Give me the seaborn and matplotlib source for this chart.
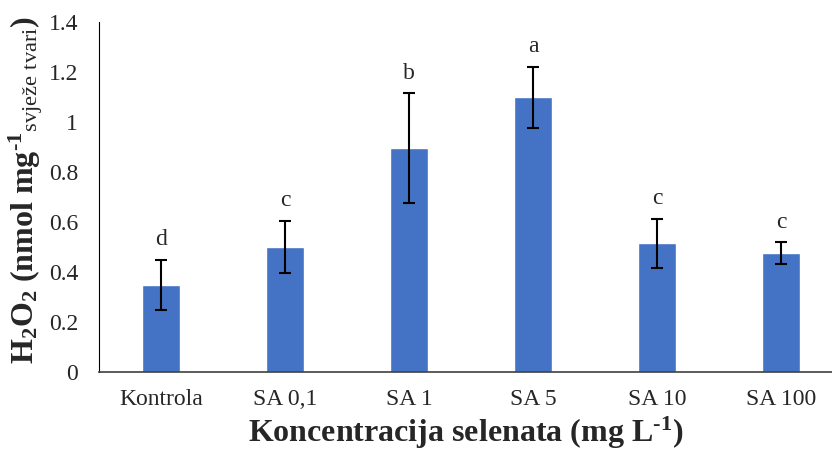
import matplotlib
matplotlib.use("Agg")
import matplotlib.pyplot as plt
import seaborn as sns
import pandas as pd

# podaci procitani sa grafika
tretmani = ['Kontrola', 'SA 0,1', 'SA 1', 'SA 5', 'SA 10', 'SA 100']
h2o2 = [0.35, 0.50, 0.895, 1.10, 0.515, 0.475]
greska = [0.10, 0.105, 0.22, 0.122, 0.097, 0.044]
slova = ['d', 'c', 'b', 'a', 'c', 'c']

df = pd.DataFrame({'tretman': tretmani, 'h2o2': h2o2})

sns.set_style('white')
plt.rcParams['font.family'] = ['Liberation Serif', 'DejaVu Serif']
plt.rcParams['mathtext.fontset'] = 'custom'
plt.rcParams['mathtext.rm'] = 'Liberation Serif'
plt.rcParams['mathtext.it'] = 'Liberation Serif:bold'
plt.rcParams['mathtext.bf'] = 'Liberation Serif:bold'

boja = '#4472C4'

fig = plt.figure(figsize=(8.32, 4.54), dpi=100)
ax = fig.add_axes([0.119, 0.1806, 0.881, 0.7709])

sns.barplot(data=df, x='tretman', y='h2o2', color=boja, saturation=1,
            width=0.306, errorbar=None, ax=ax)
ax.errorbar(range(len(tretmani)), h2o2, yerr=greska, fmt='none',
            ecolor='black', elinewidth=1.5, capsize=4.2, capthick=1.5)

for i, s in enumerate(slova):
    ax.annotate(s, (i, h2o2[i] + greska[i]), xytext=(0, 7),
                textcoords='offset points', ha='center', va='bottom',
                fontsize=17)

ax.set_ylim(0, 1.4)
ax.set_xlim(-0.5, 5.41)
ax.set_yticks([0, 0.2, 0.4, 0.6, 0.8, 1.0, 1.2, 1.4])
ax.set_yticklabels(['0', '0.2', '0.4', '0.6', '0.8', '1', '1.2', '1.4'])
ax.tick_params(axis='y', length=0, pad=15, labelsize=17)
ax.tick_params(axis='x', length=0, pad=12, labelsize=17)

for s in ['top', 'right']:
    ax.spines[s].set_visible(False)
ax.spines['left'].set_color('black')
ax.spines['left'].set_linewidth(0.8)
ax.spines['bottom'].set_color('#404040')
ax.spines['bottom'].set_linewidth(1.2)

ax.set_xlabel('Koncentracija selenata (mg L$^{\\mathbf{\u2010}\\mathbf{1}}$)',
              fontsize=23, fontweight='bold', labelpad=4)
ax.set_ylabel('H$_\\mathbf{2}$O$_\\mathbf{2}$ (nmol mg$^{\\mathbf{\u2010}\\mathbf{1}}$'
              '$_{\\mathrm{svje\u017ee\\ tvari}}$)',
              fontsize=23, fontweight='bold')
ax.yaxis.set_label_coords(-0.073, 0.52)

fig.savefig('out.png', dpi=100)
